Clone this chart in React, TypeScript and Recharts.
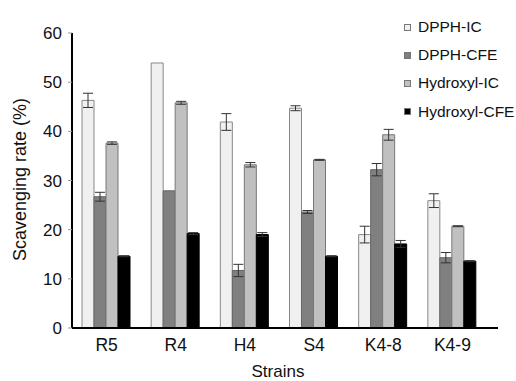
import React from 'react';
import { BarChart, Bar, XAxis, YAxis, ErrorBar, Legend, Label } from 'recharts';

const strains = ['R5', 'R4', 'H4', 'S4', 'K4-8', 'K4-9'];
const dpphIC = [46.3, 53.9, 41.9, 44.7, 19.0, 25.9];
const dpphICErr = [1.45, 0, 1.7, 0.5, 1.7, 1.4];
const dpphCFE = [26.7, 27.9, 11.7, 23.6, 32.2, 14.3];
const dpphCFEErr = [0.9, 0, 1.25, 0.3, 1.25, 1.05];
const hydroxylIC = [37.6, 45.8, 33.2, 34.2, 39.3, 20.7];
const hydroxylICErr = [0.25, 0.3, 0.45, 0.1, 1.1, 0.1];
const hydroxylCFE = [14.6, 19.2, 19.0, 14.6, 17.1, 13.6];
const hydroxylCFEErr = [0.1, 0.2, 0.4, 0.1, 0.7, 0.1];
const yTicks = [0, 10, 20, 30, 40, 50, 60];

const seriesNames = ['DPPH-IC', 'DPPH-CFE', 'Hydroxyl-IC', 'Hydroxyl-CFE'];
const seriesColors = ['#f0f0f0', '#808080', '#c0c0c0', '#000000'];

const data = strains.map((s, i) => ({
  strain: s,
  dpphIC: dpphIC[i],
  dpphICErr: dpphICErr[i],
  dpphCFE: dpphCFE[i],
  dpphCFEErr: dpphCFEErr[i],
  hydroxylIC: hydroxylIC[i],
  hydroxylICErr: hydroxylICErr[i],
  hydroxylCFE: hydroxylCFE[i],
  hydroxylCFEErr: hydroxylCFEErr[i],
}));

const font = '"Liberation Sans", Arial, sans-serif';

const LegendBox = () => (
  <div style={{ fontFamily: font, fontSize: 15.5, color: '#111' }}>
    {seriesNames.map((name, i) => (
      <div key={name} style={{ display: 'flex', alignItems: 'center', height: 28.2 }}>
        <span
          style={{
            display: 'inline-block',
            width: 5,
            height: 5,
            background: seriesColors[i],
            border: '1px solid #777',
            marginRight: 7,
          }}
        />
        {name}
      </div>
    ))}
  </div>
);

export default function App() {
  return (
    <div style={{ position: 'absolute', left: 0, top: 0, width: 516, height: 381, background: '#fff' }}>
      <BarChart
        width={516}
        height={381}
        data={data}
        margin={{ top: 33, right: 18, left: 0, bottom: 0 }}
        barCategoryGap={10}
        barGap={0}
      >
        <XAxis
          dataKey="strain"
          height={53}
          padding={{ left: 0, right: 11 }}
          axisLine={{ stroke: '#000', strokeWidth: 2 }}
          tickLine={false}
          tickSize={0}
          tickMargin={11}
          tick={{ fontSize: 17.5, fill: '#111', fontFamily: font }}
        >
          <Label value="Strains" position="insideBottom" offset={4} dx={-7} style={{ fontSize: 17, fill: '#111', fontFamily: font }} />
        </XAxis>
        <YAxis
          width={72}
          domain={[0, 60]}
          ticks={yTicks}
          interval={0}
          axisLine={{ stroke: '#000', strokeWidth: 2 }}
          tickLine={{ stroke: '#999' }}
          tickSize={4}
          tickMargin={6}
          tick={{ fontSize: 17, fill: '#111', fontFamily: font }}
        >
          <Label
            content={({ viewBox }: any) => {
              const cx = 20;
              const cy = viewBox.y + viewBox.height / 2 - 1;
              return (
                <text
                  x={cx}
                  y={cy}
                  transform={`rotate(-90 ${cx} ${cy})`}
                  textAnchor="middle"
                  dominantBaseline="central"
                  style={{ fontSize: 18, fill: '#111', fontFamily: font }}
                >
                  Scavenging rate (%)
                </text>
              );
            }}
          />
        </YAxis>
        <Legend
          layout="horizontal"
          verticalAlign="middle"
          align="center"
          content={<LegendBox />}
          wrapperStyle={{ position: 'absolute', left: 404, top: 13, width: 112 }}
        />
        <Bar dataKey="dpphIC" name="DPPH-IC" fill={seriesColors[0]} stroke="#888" strokeWidth={1} isAnimationActive={false}>
          <ErrorBar dataKey="dpphICErr" width={5} stroke="#333" strokeWidth={1} />
        </Bar>
        <Bar dataKey="dpphCFE" name="DPPH-CFE" fill={seriesColors[1]} stroke="#666" strokeWidth={1} isAnimationActive={false}>
          <ErrorBar dataKey="dpphCFEErr" width={5} stroke="#333" strokeWidth={1} />
        </Bar>
        <Bar dataKey="hydroxylIC" name="Hydroxyl-IC" fill={seriesColors[2]} stroke="#777" strokeWidth={1} isAnimationActive={false}>
          <ErrorBar dataKey="hydroxylICErr" width={5} stroke="#333" strokeWidth={1} />
        </Bar>
        <Bar dataKey="hydroxylCFE" name="Hydroxyl-CFE" fill={seriesColors[3]} stroke="#000" strokeWidth={1} isAnimationActive={false}>
          <ErrorBar dataKey="hydroxylCFEErr" width={5} stroke="#333" strokeWidth={1} />
        </Bar>
      </BarChart>
    </div>
  );
}
